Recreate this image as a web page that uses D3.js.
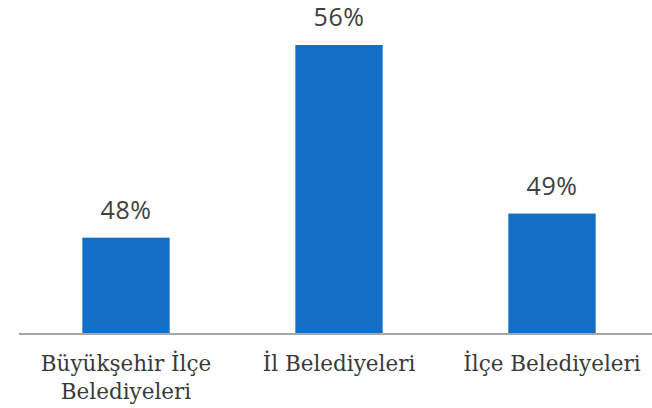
<!DOCTYPE html>
<html lang="tr">
<head>
    <meta charset="UTF-8">
    <title>Belediyeler</title>
    <script src="https://d3js.org/d3.v7.min.js"></script>
    <style>
        body { margin: 0; background: #fff; }
    </style>
</head>
<body>

<svg width="652" height="408"></svg>

<script>

    // veriler
    var categories = [['Büyükşehir İlçe', 'Belediyeleri'], ['İl Belediyeleri'], ['İlçe Belediyeleri']];
    var values = [48, 56, 49];

    var svg = d3.select('svg');

    // x ekseni bant ölçeği
    var x = d3.scaleBand()
        .domain(d3.range(values.length))
        .range([19.5, 658.5])
        .paddingInner(0.59)
        .paddingOuter(0.295);

    // y ekseni 44%'ten başlıyor
    var y = d3.scaleLinear().domain([44, 56]).range([334, 45]);

    svg.selectAll('rect.bar')
        .data(values)
        .enter()
        .append('rect')
        .attr('class', 'bar')
        .attr('x', function (d, i) { return x(i); })
        .attr('y', function (d) { return y(d); })
        .attr('width', x.bandwidth())
        .attr('height', function (d) { return y(44) - y(d); })
        .attr('fill', '#136fc6');

    // taban çizgisi
    svg.append('line')
        .attr('x1', 19).attr('x2', 652)
        .attr('y1', 334).attr('y2', 334)
        .attr('stroke', '#a6a6a6')
        .attr('stroke-width', 2);

    // değer etiketleri
    svg.selectAll('text.val')
        .data(values)
        .enter()
        .append('text')
        .attr('class', 'val')
        .attr('x', function (d, i) { return x(i) + x.bandwidth() / 2; })
        .attr('y', function (d) { return y(d) - 19; })
        .attr('text-anchor', 'middle')
        .attr('font-family', 'Open Sans')
        .attr('font-size', 25)
        .attr('letter-spacing', 0.5)
        .attr('fill', '#404040')
        .text(function (d) { return d + '%'; });

    // kategori etiketleri
    var lab = svg.selectAll('text.cat')
        .data(categories)
        .enter()
        .append('text')
        .attr('class', 'cat')
        .attr('text-anchor', 'middle')
        .attr('font-family', 'DejaVu Serif')
        .attr('font-size', 21.5)
        .attr('fill', '#3a3a3a');

    lab.selectAll('tspan')
        .data(function (d, i) { return d.map(function (t) { return {t: t, i: i}; }); })
        .enter()
        .append('tspan')
        .attr('x', function (d) { return x(d.i) + x.bandwidth() / 2; })
        .attr('y', function (d, j) { return 371 + j * 28; })
        .text(function (d) { return d.t; });

</script>
</body>
</html>
